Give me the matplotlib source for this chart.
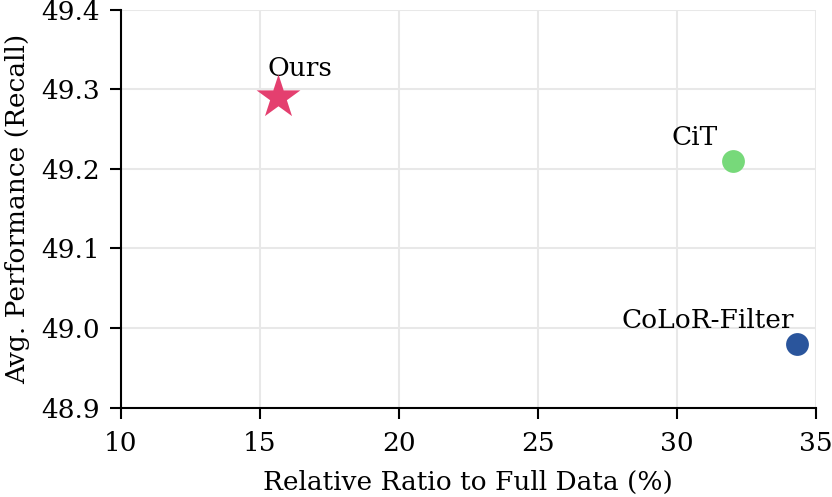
import matplotlib.pyplot as plt

# data
methods = ["Ours", "CiT", "CoLoR-Filter"]
ratio = [15.65, 32.0, 34.3]
recall = [49.29, 49.21, 48.98]
colors = ["#E43F6F", "#77D97A", "#2A559C"]
markers = ["*", "o", "o"]
sizes = [1100, 270, 270]

plt.rcParams['font.family'] = ['DejaVu Serif']

fig, ax = plt.subplots(figsize=(8.32, 4.97), dpi=100)

for m, x, y, c, mk, s in zip(methods, ratio, recall, colors, markers, sizes):
    ax.scatter(x, y, color=c, marker=mk, s=s, zorder=5, linewidths=0)

# labels
ax.annotate("Ours", (ratio[0], recall[0]), xytext=(16, 12), textcoords='offset points',
            ha='center', va='bottom', fontsize=19)
ax.annotate("CiT", (ratio[1], recall[1]), xytext=(-11, 8), textcoords='offset points',
            ha='right', va='bottom', fontsize=19)
ax.annotate("CoLoR-Filter", (ratio[2], recall[2]), xytext=(-2, 8), textcoords='offset points',
            ha='right', va='bottom', fontsize=19)

ax.set_xlim(10, 35)
ax.set_ylim(48.9, 49.4)
ax.set_xticks([10, 15, 20, 25, 30, 35])
ax.set_yticks([48.9, 49.0, 49.1, 49.2, 49.3, 49.4])
ax.set_xlabel("Relative Ratio to Full Data (%)", fontsize=19, labelpad=10)
ax.set_ylabel("Avg. Performance (Recall)", fontsize=19, labelpad=8)
ax.tick_params(labelsize=19, length=8, width=1.5)
ax.tick_params(axis='x', pad=9)
ax.tick_params(axis='y', pad=7)

ax.grid(True, color='#e8e8e8', linewidth=1.5)
ax.set_axisbelow(True)
for s in ['top', 'right']:
    ax.spines[s].set_visible(False)
for s in ['left', 'bottom']:
    ax.spines[s].set_linewidth(1.5)

plt.subplots_adjust(left=0.145, right=0.981, top=0.98, bottom=0.18)
plt.savefig("out.png", dpi=100)
